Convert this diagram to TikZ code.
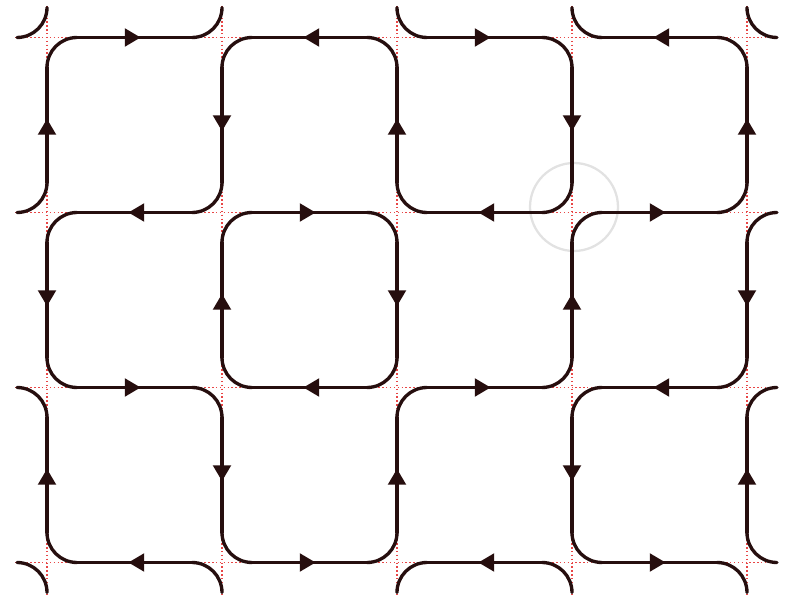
\documentclass[tikz,border=0pt]{standalone}
\usetikzlibrary{arrows.meta,decorations.markings}

\definecolor{fluxline}{RGB}{38,14,14}
\definecolor{gridred}{RGB}{232,70,70}
\definecolor{ringgray}{RGB}{226,226,226}

\tikzset{
  flux/.style={line width=1.9pt,draw=fluxline,line cap=round},
  corner/.style={flux,rounded corners=0.6cm},
  midarrow/.style={postaction={decorate},decoration={markings,
    mark=at position 0.5 with {\arrow[xshift=3.5pt,fluxline]{Triangle[length=9pt,width=10pt]}}}},
  gridline/.style={gridred,line width=0.7pt,dash pattern=on 0.8pt off 1.4pt},
}

\begin{document}
\begin{tikzpicture}[x=0.02cm,y=-0.02cm]
\useasboundingbox (0,0) rectangle (789,601);

% Dotted grid
\foreach \i in {0,...,4}
  \draw[gridline] (47+175*\i,6) -- (47+175*\i,595);
\foreach \j in {0,...,3}
  \draw[gridline] (15,37.5+175*\j) -- (780,37.5+175*\j);

% Faint ring
\draw[ringgray,line width=1.3pt] (574,207) circle [radius=0.88cm];

% Crossings turning west-north and east-south
\foreach \i/\j in {0/0,1/0,0/1,1/1,3/1,4/1,2/2,3/2,4/2,2/3} {
  \begin{scope}[shift={(47+175*\i,37.5+175*\j)}]
    \draw[corner] (-30,0) -- (0,0) -- (0,-30);
    \draw[corner] (30,0) -- (0,0) -- (0,30);
  \end{scope}
}

% Crossings turning north-east and west-south
\foreach \i/\j in {2/0,3/0,4/0,2/1,0/2,1/2,0/3,1/3,3/3,4/3} {
  \begin{scope}[shift={(47+175*\i,37.5+175*\j)}]
    \draw[corner] (0,-30) -- (0,0) -- (30,0);
    \draw[corner] (-30,0) -- (0,0) -- (0,30);
  \end{scope}
}

% Horizontal runs
\foreach \i in {0,...,3}
  \foreach \j in {0,...,3} {
    \pgfmathtruncatemacro\flip{mod(\i+\j,2)}
    \begin{scope}[shift={(47+175*\i,37.5+175*\j)}]
      \ifnum\flip=0
        \draw[flux,midarrow] (30,0) -- (145,0);
      \else
        \draw[flux,midarrow] (145,0) -- (30,0);
      \fi
    \end{scope}
  }

% Vertical runs
\foreach \i in {0,...,4}
  \foreach \j in {0,...,2} {
    \pgfmathtruncatemacro\flip{mod(\i+\j,2)}
    \begin{scope}[shift={(47+175*\i,37.5+175*\j)}]
      \ifnum\flip=0
        \draw[flux,midarrow] (0,145) -- (0,30);
      \else
        \draw[flux,midarrow] (0,30) -- (0,145);
      \fi
    \end{scope}
  }

\end{tikzpicture}
\end{document}
